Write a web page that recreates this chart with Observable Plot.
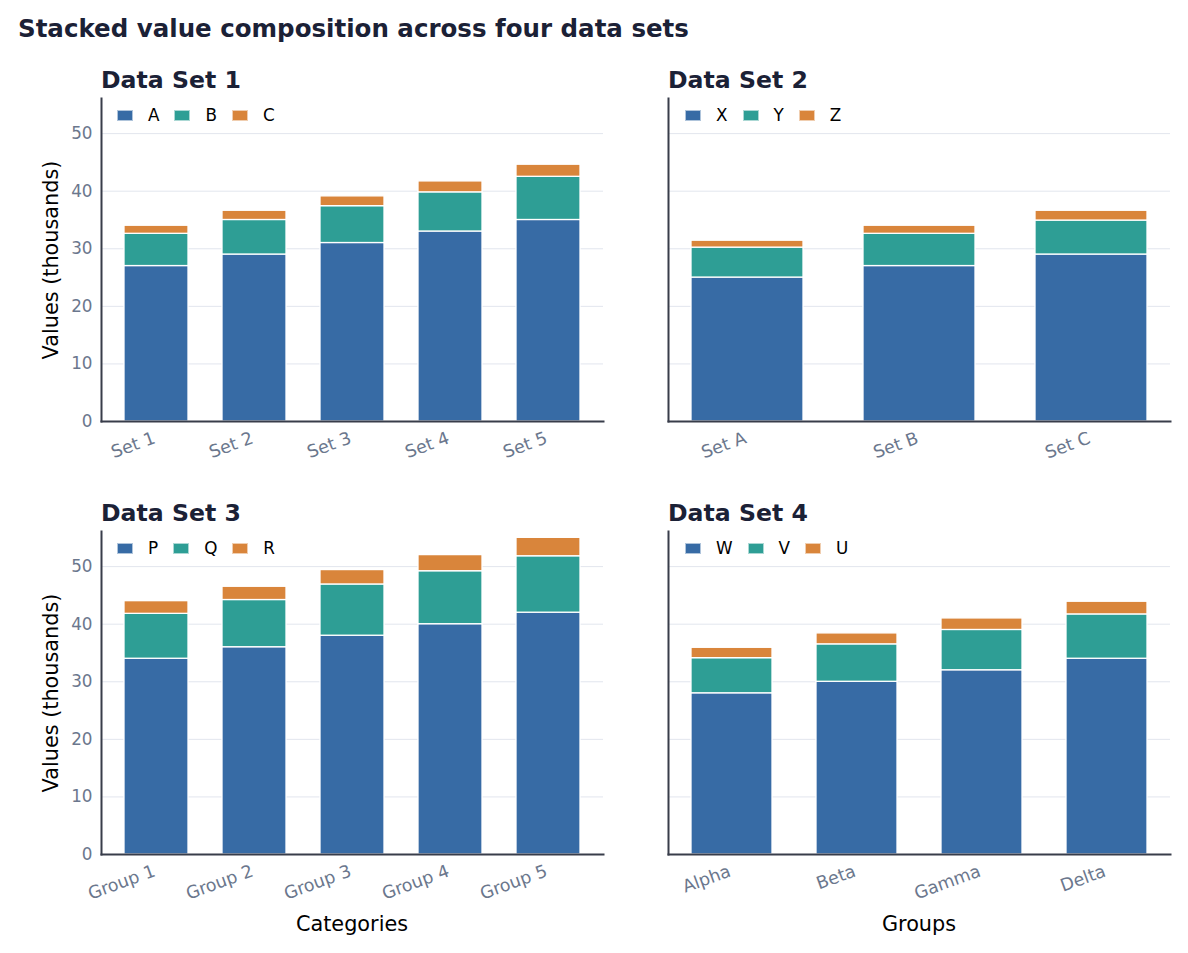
<!DOCTYPE html>
<html><head><meta charset="utf-8">
<script src="https://cdn.jsdelivr.net/npm/d3@7"></script>
<script src="https://cdn.jsdelivr.net/npm/@observablehq/plot@0.6"></script>
<style>
body{margin:0;background:#fff;font-family:"DejaVu Sans",sans-serif;}
#root{position:relative;width:1188px;height:953px;overflow:hidden;background:#fff;}
.abs{position:absolute;white-space:nowrap;line-height:1;}
.main{left:18px;top:16.5px;font-weight:bold;font-size:24.5px;color:#1b2136;}
.ptitle{font-weight:bold;font-size:23.6px;color:#1b2136;}
.ylab{font-size:20.8px;color:#000;transform:translate(-50%,-50%) rotate(-90deg);}
.xlab{font-size:20.8px;color:#000;transform:translateX(-50%);}
.legend{display:flex;align-items:center;font-size:16.8px;color:#000;}
.sw{width:16px;height:11px;box-sizing:border-box;border:1px solid rgba(255,255,255,0.6);margin-right:15px;}
.lt{margin-right:15px;line-height:1;}
.panel{position:absolute;}
</style>
</head><body>
<div id="root"></div>
<script>
// ---- data ----
const set1Cats = ["Set 1","Set 2","Set 3","Set 4","Set 5"];
const set1Series = ["A","B","C"];
const set1A = [27,29,31,33,35];
const set1B = [5.6,6.0,6.4,6.8,7.5];
const set1C = [1.4,1.6,1.7,1.9,2.1];

const set2Cats = ["Set A","Set B","Set C"];
const set2Series = ["X","Y","Z"];
const set2X = [25,27,29];
const set2Y = [5.2,5.6,5.9];
const set2Z = [1.2,1.4,1.7];

const set3Cats = ["Group 1","Group 2","Group 3","Group 4","Group 5"];
const set3Series = ["P","Q","R"];
const set3P = [34,36,38,40,42];
const set3Q = [7.8,8.2,8.9,9.2,9.8];
const set3R = [2.2,2.3,2.5,2.8,3.2];

const set4Cats = ["Alpha","Beta","Gamma","Delta"];
const set4Series = ["W","V","U"];
const set4W = [28,30,32,34];
const set4V = [6.1,6.5,7.0,7.7];
const set4U = [1.8,1.9,2.0,2.2];

const yTicks = [0,10,20,30,40,50];
const titles = ["Data Set 1","Data Set 2","Data Set 3","Data Set 4"];
const colors = ["#376ba5","#2e9e95","#d9853b"];

// ---- build ----
function longTable(cats, series, vals) {
  const rows = [];
  series.forEach((s, j) => cats.forEach((c, i) => rows.push({cat: c, series: s, value: vals[j][i]})));
  return rows;
}

const root = document.getElementById("root");
function addDiv(cls, text, style) {
  const d = document.createElement("div");
  d.className = "abs " + cls;
  if (text != null) d.textContent = text;
  Object.assign(d.style, style || {});
  root.appendChild(d);
  return d;
}

const panels = [
  {cats: set1Cats, series: set1Series, vals: [set1A,set1B,set1C], col: 0, row: 0},
  {cats: set2Cats, series: set2Series, vals: [set2X,set2Y,set2Z], col: 1, row: 0},
  {cats: set3Cats, series: set3Series, vals: [set3P,set3Q,set3R], col: 0, row: 1, xlabel: "Categories"},
  {cats: set4Cats, series: set4Series, vals: [set4W,set4V,set4U], col: 1, row: 1, xlabel: "Groups"}
];

panels.forEach((p, k) => {
  const n = p.cats.length;
  const left = p.col === 0 ? 0 : 580;
  const mL = p.col === 0 ? 101 : 88;
  const top = p.row === 0 ? 90 : 523;
  const plotLeft = left + mL, plotTop = top + 8;
  const plotW = 502, plotH = 323;
  const marks = [
    Plot.gridY(yTicks.filter(t => t > 0), {stroke: "#e2e6ee", strokeOpacity: 1, strokeWidth: 1}),
    Plot.barY(longTable(p.cats, p.series, p.vals), {x: "cat", y: "value", fill: "series", stroke: "white", strokeWidth: 1.3}),
    Plot.axisX({tickSize: 0, tickPadding: 16, tickRotate: -20, dx: -2, color: "#6b778d", label: null, fontSize: 17.5}),
    Plot.frame({anchor: "left", stroke: "#383d4a", strokeWidth: 2}),
    Plot.frame({anchor: "bottom", stroke: "#383d4a", strokeWidth: 2})
  ];
  if (p.col === 0) marks.push(Plot.axisY({ticks: yTicks, tickSize: 0, tickPadding: 9, color: "#6b778d", label: null, fontSize: 16.8}));
  const chart = Plot.plot({
    width: mL + plotW + 10,
    height: 8 + plotH + 60,
    marginLeft: mL, marginRight: 10, marginTop: 8, marginBottom: 60,
    style: {fontFamily: "DejaVu Sans", fontSize: "16.8px", overflow: "visible", background: "transparent"},
    x: {type: "band", domain: p.cats, paddingInner: 0.35, paddingOuter: 0.05 * (n - 0.35), axis: null},
    y: {domain: [0, 56.1], axis: null},
    color: {domain: p.series, range: colors},
    marks
  });
  chart.classList.add("panel");
  chart.style.left = left + "px";
  chart.style.top = top + "px";
  root.appendChild(chart);

  // panel title
  addDiv("ptitle", titles[k], {left: plotLeft + "px", top: (plotTop - 29.5) + "px"});
  // legend
  const lg = addDiv("legend", null, {left: (plotLeft + (p.col === 0 ? 16 : 17)) + "px", top: (plotTop + 12 - 3) + "px", height: "17px"});
  p.series.forEach((s, j) => {
    const sw = document.createElement("span"); sw.className = "sw"; sw.style.background = colors[j]; lg.appendChild(sw);
    const t = document.createElement("span"); t.className = "lt"; t.textContent = s; lg.appendChild(t);
  });
  if (p.col === 0) addDiv("ylab", "Values (thousands)", {left: "50.5px", top: (plotTop + plotH / 2) + "px"});
  if (p.xlabel) addDiv("xlab", p.xlabel, {left: (plotLeft + plotW / 2) + "px", top: "913.5px"});
});

addDiv("main", "Stacked value composition across four data sets");
</script>
</body></html>
